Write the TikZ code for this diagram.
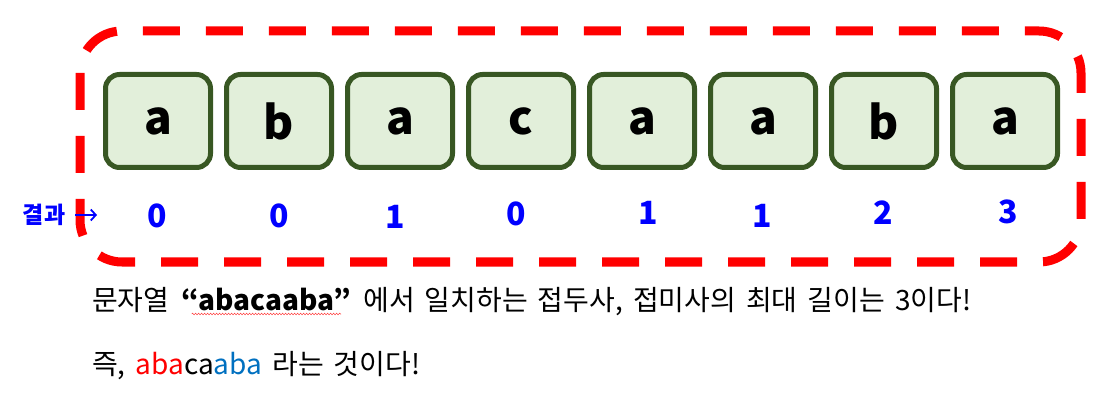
\documentclass[tikz,border=0pt]{standalone}
\usepackage{fontspec}
\setmainfont[WordSpace=1.6]{Noto Sans CJK KR}
\usetikzlibrary{decorations.pathmorphing,arrows.meta}
\definecolor{boxgreen}{RGB}{56,87,35}
\definecolor{boxfill}{RGB}{226,239,218}
\definecolor{numblue}{RGB}{0,0,255}
\definecolor{textblue}{RGB}{0,112,192}
\tikzset{
  charbox/.style={draw=boxgreen, fill=boxfill, line width=5pt,
    rounded corners=14pt, minimum width=105pt, minimum height=93pt,
    inner sep=0pt, font=\fontsize{46}{46}\selectfont\bfseries},
  result/.style={text=numblue, inner sep=0pt,
    font=\fontsize{32}{32}\selectfont\bfseries},
  plain/.style={anchor=base west, inner sep=0pt,
    font=\fontsize{28}{28}\selectfont},
}
\begin{document}
\begin{tikzpicture}[x=1pt,y=-1pt]
  \useasboundingbox (0,0) rectangle (1102,403);
  % outer dashed frame
  \draw[red, line width=9pt, dash pattern=on 37pt off 26pt,
    rounded corners=42pt] (80,31) rectangle (1081,262);

  % characters
  \foreach \ch [count=\i] in {a,b,a,c,a,a,b,a}
    \node[charbox] (c\i) at ({158+121*(\i-1)},121) {\ch};

  % failure values
  \foreach \v/\x/\y [count=\i] in {0/157/216, 0/279/216, 1/395/217,
      0/516/214, 1/648/213, 1/762/216, 2/883/213, 3/1008/212}
    \node[result] (r\i) at (\x,\y) {\v};
  \node[text=numblue, inner sep=0pt,
    font=\fontsize{23}{23}\selectfont\bfseries] (lbl) at (44,215) {결과};
  \coordinate (tip) at (97,215);
  \draw[numblue, line width=1.8pt, -{Straight Barb[length=5pt,width=11pt]}]
    ([xshift=10pt]lbl.east) -- (tip);

  % explanation
  \node[plain] (line1a) at (92,310) {문자열};
  \node[plain, font=\fontsize{28}{28}\selectfont\bfseries]
    (word) at ([xshift=12pt]line1a.base east) {“abacaaba”};
  \node[plain] (line1b) at ([xshift=12pt]word.base east)
    {에서 일치하는 접두사, 접미사의 최대 길이는 3이다!};
  \draw[red!80, line width=0.5pt,
    decorate, decoration={snake, amplitude=0.8pt, segment length=3pt}]
    ([xshift=10pt,yshift=-4pt]word.base west)
    -- ([xshift=-10pt,yshift=-4pt]word.base east);
  \node[plain] (line2) at (92,374)
    {즉, \textcolor{red}{aba}ca\textcolor{textblue}{aba} 라는 것이다!};
\end{tikzpicture}
\end{document}
